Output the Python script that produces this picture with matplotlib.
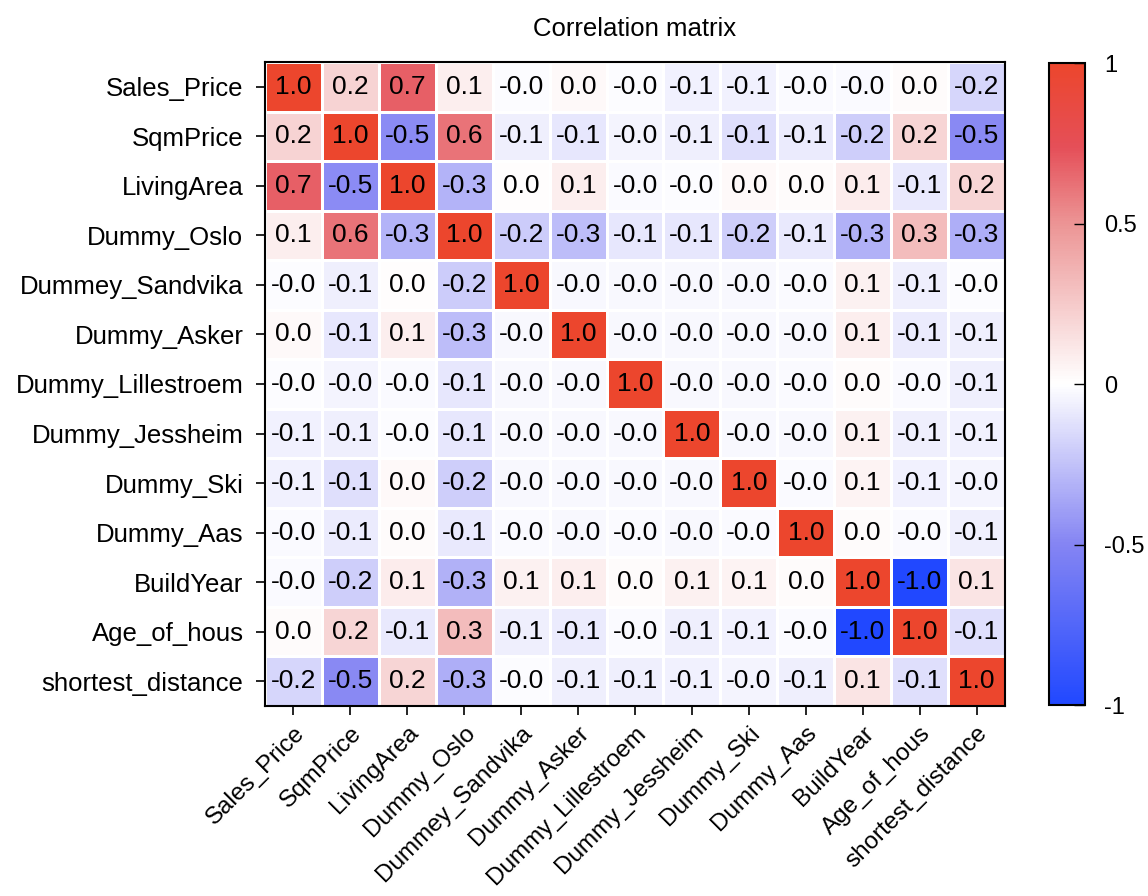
import numpy as np
import matplotlib
matplotlib.use("Agg")
from matplotlib import pyplot as plt
from matplotlib.colors import LinearSegmentedColormap

labels = ["Sales_Price", "SqmPrice", "LivingArea", "Dummy_Oslo", "Dummey_Sandvika",
          "Dummy_Asker", "Dummy_Lillestroem", "Dummy_Jessheim", "Dummy_Ski",
          "Dummy_Aas", "BuildYear", "Age_of_hous", "shortest_distance"]

# correlation values (rows in label order)
corr = [
    [1.00, 0.21, 0.68, 0.08, -0.01, 0.03, -0.01, -0.06, -0.06, -0.02, -0.02, 0.02, -0.17],
    [0.21, 1.00, -0.47, 0.61, -0.07, -0.10, -0.04, -0.07, -0.13, -0.08, -0.20, 0.20, -0.48],
    [0.68, -0.47, 1.00, -0.31, 0.01, 0.08, -0.02, -0.01, 0.03, 0.02, 0.09, -0.09, 0.20],
    [0.08, 0.61, -0.31, 1.00, -0.21, -0.27, -0.10, -0.10, -0.20, -0.09, -0.32, 0.32, -0.33],
    [-0.01, -0.07, 0.01, -0.21, 1.00, -0.03, -0.03, -0.03, -0.03, -0.02, 0.07, -0.07, -0.01],
    [0.03, -0.10, 0.08, -0.27, -0.03, 1.00, -0.03, -0.03, -0.03, -0.03, 0.08, -0.08, -0.07],
    [-0.01, -0.04, -0.02, -0.10, -0.03, -0.03, 1.00, -0.03, -0.03, -0.02, 0.02, -0.02, -0.07],
    [-0.06, -0.07, -0.01, -0.10, -0.03, -0.03, -0.03, 1.00, -0.03, -0.03, 0.07, -0.07, -0.06],
    [-0.06, -0.13, 0.03, -0.20, -0.03, -0.03, -0.03, -0.03, 1.00, -0.02, 0.06, -0.06, -0.04],
    [-0.02, -0.08, 0.02, -0.09, -0.02, -0.03, -0.02, -0.03, -0.02, 1.00, 0.02, -0.02, -0.07],
    [-0.02, -0.20, 0.09, -0.32, 0.07, 0.08, 0.02, 0.07, 0.06, 0.02, 1.00, -1.00, 0.13],
    [0.02, 0.20, -0.09, 0.32, -0.07, -0.08, -0.02, -0.07, -0.06, -0.02, -1.00, 1.00, -0.13],
    [-0.17, -0.48, 0.20, -0.33, -0.01, -0.07, -0.07, -0.06, -0.04, -0.07, 0.13, -0.13, 1.00],
]

plt.rcParams['font.family'] = ['Liberation Sans', 'DejaVu Sans']

cmap = LinearSegmentedColormap.from_list("rwb", [
    (0.0, "#2148ff"),
    (0.25, "#8585f3"),
    (0.5, "#ffffff"),
    (0.75, "#ec9595"),
    (0.87, "#e54f58"),
    (1.0, "#ec462d"),
])

data = np.array(corr)
n = len(labels)

fig = plt.figure(figsize=(11.48, 8.96), dpi=100)
ax = fig.add_axes([265 / 1148, 1 - 706 / 896, 740 / 1148, 644 / 896])
cax = fig.add_axes([1049 / 1148, 1 - 705 / 896, 36 / 1148, 642 / 896])

mesh = ax.pcolormesh(np.arange(n + 1) - 0.5, np.arange(n + 1) - 0.5, data,
                     cmap=cmap, vmin=-1, vmax=1, edgecolors="white", linewidth=2)
ax.set_xlim(-0.5, n - 0.5)
ax.set_ylim(n - 0.5, -0.5)

for i in range(n):
    for j in range(n):
        ax.text(j, i, f"{data[i, j]:.1f}", ha="center", va="center", fontsize=19, color="black")

ax.set_xticks(np.arange(n))
ax.set_yticks(np.arange(n))
ax.set_xticklabels(labels, rotation=45, ha="right", rotation_mode="anchor", fontsize=17.5)
ax.set_yticklabels(labels, fontsize=18.5)
ax.tick_params(direction="out", length=6.5, width=1.2)
ax.tick_params(axis="y", pad=9)
ax.tick_params(axis="x", pad=5)
for s in ax.spines.values():
    s.set_linewidth(1.5)

ax.set_title("Correlation matrix", fontsize=18.5, pad=19)

cb = fig.colorbar(mesh, cax=cax, ticks=[-1, -0.5, 0, 0.5, 1])
cb.ax.set_yticklabels(["-1", "-0.5", "0", "0.5", "1"], fontsize=17)
cb.ax.tick_params(direction="in", length=8, width=1, pad=14)
cb.outline.set_linewidth(1.5)

fig.savefig("out.png", dpi=100)
